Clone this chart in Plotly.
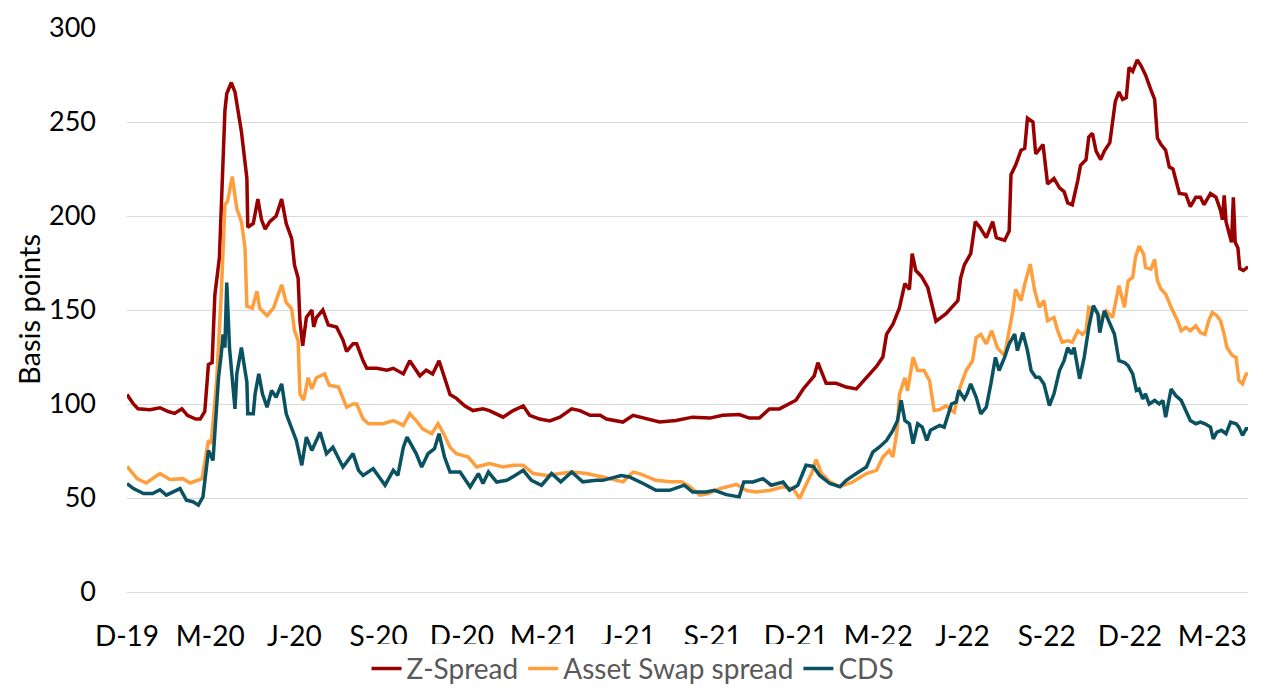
import pandas as pd
import plotly.graph_objects as go

START = pd.Timestamp("2019-12-01")

# Z-Spread (bp): observation day offsets from 1 Dec 2019 and values
z_days = [0, 7, 12, 25, 36, 45, 52, 60, 66, 75, 80, 85, 89, 93, 96, 101, 103, 107, 109, 114, 118, 125, 131, 132, 138, 143, 147, 151, 156, 163, 169, 174, 180, 183, 187, 189, 192, 196, 202, 204, 207, 214, 220, 229, 236, 240, 247, 251, 258, 262, 273, 284, 291, 302, 309, 314, 320, 327, 334, 341, 347, 353, 360, 369, 378, 389, 396, 411, 422, 433, 440, 451, 462, 473, 486, 495, 506, 517, 524, 542, 553, 571, 582, 600, 618, 637, 651, 669, 680, 691, 702, 713, 724, 731, 739, 746, 751, 755, 759, 764, 775, 786, 797, 808, 819, 826, 830, 837, 844, 850, 855, 858, 862, 868, 875, 881, 884, 895, 901, 908, 911, 915, 922, 927, 932, 939, 946, 950, 959, 964, 966, 971, 977, 981, 984, 990, 993, 1001, 1006, 1013, 1019, 1024, 1028, 1033, 1039, 1042, 1048, 1051, 1055, 1059, 1064, 1068, 1074, 1077, 1080, 1084, 1088, 1092, 1095, 1099, 1104, 1108, 1113, 1119, 1123, 1126, 1130, 1135, 1139, 1143, 1146, 1150, 1157, 1162, 1168, 1173, 1177, 1184, 1190, 1195, 1197, 1199, 1201, 1204, 1207, 1209, 1211, 1214, 1216, 1220, 1225]
z_vals = [105, 100, 97.5, 97, 98, 96, 95, 97.5, 94, 92, 92, 96, 121, 122, 158, 178, 204, 256, 265, 271, 266, 245, 220, 194, 196, 209, 198, 193, 197, 200, 209, 196, 188, 174, 167, 144, 131, 146, 150, 141, 146, 150, 142, 141, 134, 128, 132, 132, 123, 119, 119, 118, 119, 116, 123, 119, 115, 118, 116, 123, 114, 105, 103, 99, 96.5, 97.4, 96.5, 93, 96.5, 99, 94, 92, 91, 93, 97.4, 96.5, 94, 94, 92, 90.4, 94, 92, 90.4, 91.2, 93, 92.5, 94, 94.4, 92.5, 92.5, 97.4, 97.4, 100, 102, 108, 112.5, 115, 122, 117, 111, 111, 109, 108, 114, 120, 125, 137, 142.5, 151, 164, 161, 180, 171, 168, 162, 150, 144, 148, 151, 155, 167, 174, 180, 197, 194, 188.5, 197, 188.5, 187, 192, 222, 227, 235, 236, 252, 250, 233, 238, 217, 220, 215, 213, 207, 206, 219, 227, 230, 242, 244, 234.5, 230, 234.5, 239, 249, 261, 266, 262, 263, 279, 277, 283, 280, 275, 267, 262, 241.5, 238, 235, 226, 225, 219, 212, 211.5, 205, 210, 210, 206, 212, 210, 203, 198, 211, 197, 191, 186, 210, 186, 183, 172, 171, 173]

# Asset Swap spread (bp)
a_days = [0, 11, 21, 36, 47, 61, 69, 82, 89, 92, 98, 103, 107, 110, 115, 120, 125, 129, 131, 137, 142, 145, 153, 160, 163, 169, 174, 180, 183, 187, 189, 193, 198, 202, 207, 216, 221, 231, 240, 247, 251, 258, 264, 280, 291, 302, 309, 316, 323, 333, 340, 346, 353, 360, 373, 382, 396, 411, 422, 433, 444, 459, 473, 487, 502, 514, 520, 535, 542, 553, 560, 578, 593, 606, 615, 626, 635, 648, 666, 677, 688, 702, 717, 728, 735, 740, 748, 753, 759, 768, 779, 793, 808, 819, 826, 833, 837, 842, 844, 850, 853, 859, 864, 871, 877, 882, 888, 895, 904, 909, 917, 924, 928, 933, 939, 945, 951, 959, 964, 968, 971, 977, 981, 987, 992, 997, 1002, 1006, 1013, 1017, 1022, 1028, 1033, 1039, 1044, 1048, 1051, 1059, 1064, 1070, 1077, 1081, 1084, 1090, 1094, 1099, 1102, 1106, 1111, 1113, 1119, 1123, 1126, 1130, 1135, 1141, 1145, 1148, 1152, 1157, 1162, 1168, 1173, 1178, 1182, 1186, 1191, 1195, 1199, 1202, 1208, 1212, 1215, 1219, 1223, 1225]
a_vals = [66.8, 60.3, 58, 63, 59.8, 60.3, 58, 60.3, 80.6, 79, 112.5, 158.5, 206, 208, 221, 204, 197, 183, 152, 151, 160, 151, 147, 151, 155, 163.4, 154, 150.5, 139, 133.7, 105.4, 102, 114, 108, 114, 116, 110, 109, 98.3, 100, 100, 92, 89.5, 89.5, 91.2, 88.6, 94.8, 91.2, 86.8, 84.2, 89.5, 84.2, 77, 73.6, 71.8, 66.5, 68.3, 66.5, 67.4, 67.4, 63, 62, 63, 63.8, 63, 61.5, 61.2, 59.4, 58.6, 63.8, 63, 59.4, 58.6, 58.6, 56, 51.5, 52.4, 55, 57.3, 54, 53.2, 54, 56, 55, 49.7, 55, 63, 70.4, 63, 58.6, 56, 58.5, 63, 64.7, 71.8, 75.3, 71.8, 87.7, 105, 114, 107, 124.8, 117.8, 117.8, 112.5, 96.5, 97, 99, 95.6, 107, 117.8, 123, 135.4, 137, 132, 139, 130, 125.7, 139, 149.6, 161, 155, 163.8, 174.4, 160, 151.4, 155, 144.3, 146, 139, 132.8, 133.7, 132.8, 139, 137, 139, 151.4, 149.6, 145, 149.6, 146, 156.7, 163, 151.4, 165.5, 167.3, 178, 184, 179.7, 172.6, 171.7, 177, 165.5, 161, 158.5, 151.4, 147.8, 144.3, 139, 140.7, 139, 141.6, 138, 137, 144.3, 148.7, 147, 144.3, 137, 130, 125.7, 124.8, 112.5, 110.7, 116, 116]

# CDS (bp)
c_days = [0, 7, 18, 28, 36, 43, 58, 65, 72, 78, 83, 89, 94, 100, 103, 105, 107, 109, 112, 118, 120, 125, 131, 132, 138, 140, 144, 148, 153, 158, 163, 169, 174, 180, 185, 191, 196, 202, 211, 218, 225, 236, 247, 253, 258, 269, 282, 291, 296, 302, 306, 316, 322, 329, 336, 341, 347, 353, 364, 375, 384, 389, 395, 404, 415, 424, 433, 442, 453, 464, 474, 486, 498, 513, 520, 540, 549, 564, 578, 593, 609, 618, 633, 642, 655, 669, 674, 684, 695, 704, 717, 724, 733, 742, 750, 757, 768, 779, 786, 797, 808, 815, 822, 830, 837, 842, 846, 850, 855, 859, 864, 869, 874, 878, 888, 893, 901, 906, 909, 915, 918, 922, 928, 933, 939, 944, 949, 953, 959, 964, 970, 973, 979, 984, 988, 993, 997, 1002, 1008, 1013, 1019, 1024, 1028, 1032, 1035, 1041, 1046, 1051, 1056, 1061, 1063, 1068, 1073, 1079, 1084, 1090, 1094, 1099, 1103, 1106, 1110, 1113, 1117, 1123, 1128, 1132, 1135, 1141, 1146, 1152, 1157, 1162, 1168, 1173, 1178, 1184, 1187, 1191, 1196, 1201, 1206, 1212, 1215, 1219, 1223, 1225]
c_vals = [57.7, 55, 52.4, 52.4, 54.4, 51.5, 55, 48.8, 48, 46.2, 50.6, 75.3, 70, 114, 126.6, 137, 130, 164.6, 130, 97.4, 116, 130, 111.6, 94.8, 94.8, 105.4, 116, 105.4, 98.3, 107.2, 103.6, 110.7, 94.8, 87.7, 80.6, 67.4, 82.4, 75.3, 85, 73.6, 77, 66.5, 73.6, 64.7, 62, 65.6, 56.8, 64.7, 62, 77, 82.4, 73.6, 66.5, 73.6, 76.2, 84.2, 71.8, 63.8, 63.8, 55.9, 63, 57.7, 63.8, 58.5, 59.4, 62, 64.7, 59.4, 56.8, 63, 58.6, 63.8, 58.6, 59.4, 59.4, 62, 61.2, 57.7, 54.1, 54.1, 56.8, 53.2, 53.2, 54.1, 51.8, 50.6, 58.5, 58.5, 60.3, 56.8, 58.5, 54.1, 56.8, 67.4, 66.8, 62, 57.7, 56, 59.4, 63, 66.5, 74.4, 77, 80.6, 86, 91.2, 102, 91.2, 89.5, 78.9, 89.5, 87.7, 80.6, 86, 88.6, 87.7, 100, 101, 107.2, 102.7, 105.4, 110.7, 103.6, 94.8, 98.3, 110.7, 124.8, 117.8, 124.8, 132, 137.2, 128.4, 138, 128.4, 117.8, 114.2, 114.2, 110.7, 99.2, 105.4, 117.8, 123, 130, 126.6, 130, 113.4, 124.8, 140.7, 152.3, 147.8, 138, 149.6, 144.3, 137.2, 123, 122, 120.4, 116, 107.2, 108, 102.7, 105.4, 100, 101.9, 100, 101.9, 93, 108, 104.5, 101.9, 96.5, 91.2, 89.5, 90.4, 89.5, 87.7, 81.5, 85, 86, 84.2, 90.4, 89.5, 87.7, 83.3, 86.8, 86.8]

tick_dates = ["2019-12-01", "2020-03-01", "2020-06-01", "2020-09-01", "2020-12-01",
              "2021-03-01", "2021-06-01", "2021-09-01", "2021-12-01", "2022-03-01",
              "2022-06-01", "2022-09-01", "2022-12-01", "2023-03-01"]
tick_labels = ["D-19", "M-20", "J-20", "S-20", "D-20", "M-21", "J-21", "S-21",
               "D-21", "M-22", "J-22", "S-22", "D-22", "M-23"]

series = [
    ("Z-Spread", z_days, z_vals, "#990000"),
    ("Asset Swap spread", a_days, a_vals, "#FF9E3D"),
    ("CDS", c_days, c_vals, "#0A5261"),
]

def to_dates(days):
    return START + pd.to_timedelta(days, unit="D")

fig = go.Figure()
for name, days, vals, color in series:
    fig.add_trace(go.Scatter(x=to_dates(days), y=vals, mode="lines", name=name,
                             line=dict(color=color, width=3.5)))

FONT = "Lato, 'Open Sans', sans-serif"
fig.update_layout(
    width=1261, height=678,
    margin=dict(l=119, r=21, t=20, b=94, autoexpand=False),
    paper_bgcolor="white", plot_bgcolor="white",
    font=dict(family=FONT, size=27, color="#000000"),
    showlegend=True,
    legend=dict(orientation="h", x=0.4514, xanchor="center", y=-0.136, yanchor="middle",
                font=dict(size=28, color="#595959"), tracegroupgap=0),
    xaxis=dict(type="date", range=[START, START + pd.Timedelta(days=1225)],
               tickmode="array", tickvals=tick_dates, ticktext=tick_labels,
               showgrid=False, zeroline=False, showline=False, ticks="",
               ticklabelstandoff=25, tickfont=dict(size=28, color="#000000")),
    yaxis=dict(range=[0, 300], dtick=50, tick0=0, showgrid=True, gridcolor="#D9D9D9",
               gridwidth=1, zeroline=True, zerolinecolor="#D9D9D9", zerolinewidth=1,
               showline=False, ticks="", ticklabelstandoff=30,
               tickfont=dict(size=27, color="#000000")),
    annotations=[dict(text="Basis points", xref="paper", yref="paper", x=-0.0883, y=0.5,
                      xanchor="center", yanchor="middle", textangle=-90, showarrow=False,
                      font=dict(size=29, color="#000000"))],
)

fig.write_html("out.html")
